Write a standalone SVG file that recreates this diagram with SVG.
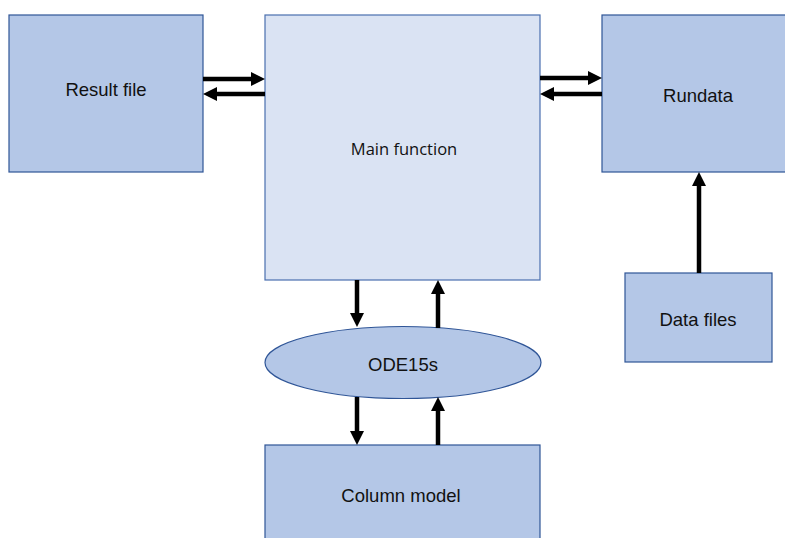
<svg xmlns="http://www.w3.org/2000/svg" width="785" height="538" viewBox="0 0 785 538">
<style>
.box{fill:#B4C7E7;stroke:#2F5597;stroke-width:1.2}
.main{fill:#DAE3F3;stroke:#4A6FAF;stroke-width:1.2}
.lbl{font-family:"Liberation Sans",Arial,sans-serif;font-size:18.5px;fill:#111;text-anchor:middle}
.lbl2{font-family:"Open Sans","Noto Sans",sans-serif;font-size:16.5px;fill:#111;text-anchor:middle}
.arr{stroke:#000;stroke-width:4.5;fill:none;marker-end:url(#ah)}
</style>
<defs>
<marker id="ah" markerUnits="userSpaceOnUse" markerWidth="15" markerHeight="15" refX="1" refY="7" orient="auto">
<path d="M0,0 L14,7 L0,14 z" fill="#000"/>
</marker>
</defs>
<rect width="785" height="538" fill="#fff"/>
<g id="result-file"><rect class="box" x="9" y="15" width="194" height="157"/><text class="lbl" x="106" y="96">Result file</text></g>
<g id="main-function"><rect class="main" x="265" y="15" width="275" height="265"/><text class="lbl2" x="404" y="155">Main function</text></g>
<g id="rundata"><rect class="box" x="602" y="15" width="195" height="157"/><text class="lbl" x="698" y="102">Rundata</text></g>
<g id="data-files"><rect class="box" x="625" y="273" width="147" height="89"/><text class="lbl" x="698" y="326">Data files</text></g>
<g id="ode15s"><ellipse class="box" cx="403" cy="362.5" rx="138" ry="36"/><text class="lbl" x="403" y="371">ODE15s</text></g>
<g id="column-model"><rect class="box" x="265" y="445" width="275" height="100"/><text class="lbl" x="401" y="502">Column model</text></g>
<g id="connectors">
<line class="arr" x1="203" y1="79" x2="252" y2="79"/>
<line class="arr" x1="265" y1="94" x2="216" y2="94"/>
<line class="arr" x1="540" y1="78" x2="589" y2="78"/>
<line class="arr" x1="602" y1="94" x2="553" y2="94"/>
<line class="arr" x1="357" y1="280" x2="357" y2="314"/>
<line class="arr" x1="438" y1="328" x2="438" y2="293"/>
<line class="arr" x1="357" y1="397" x2="357" y2="432"/>
<line class="arr" x1="438" y1="445" x2="438" y2="410"/>
<line class="arr" x1="699" y1="273" x2="699" y2="185"/>
</g>
</svg>
